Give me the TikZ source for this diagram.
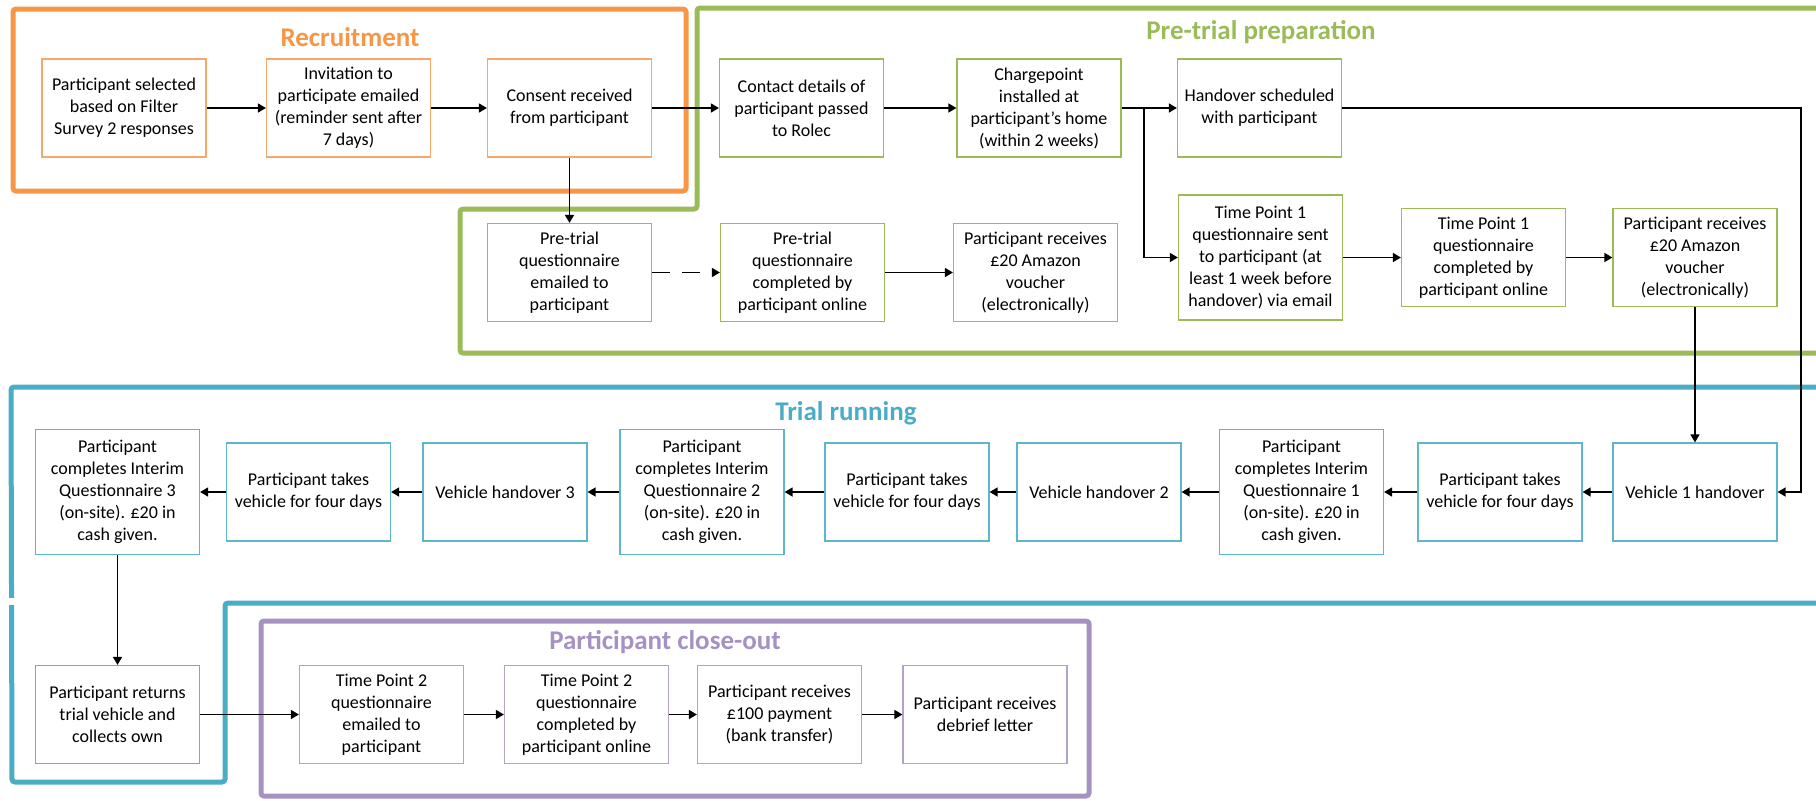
\documentclass[tikz,border=0pt]{standalone}
\usepackage{fontspec}
\setmainfont{Carlito}
\usetikzlibrary{arrows.meta}
\definecolor{recOrange}{HTML}{F79646}
\definecolor{recBox}{HTML}{F9A66C}
\definecolor{preGreen}{HTML}{9BBB59}
\definecolor{trialTeal}{HTML}{4BACC6}
\definecolor{trialBox}{HTML}{5DB6CE}
\definecolor{closePurple}{HTML}{A692C2}
\definecolor{closeBox}{HTML}{B3A2C7}

\begin{document}
\begin{tikzpicture}[x=0.5pt,y=-0.5pt,
  box/.style={draw, line width=0.6pt, fill=white, align=center, inner sep=0pt,
    minimum width=82pt, minimum height=49pt, font=\fontsize{9}{11}\selectfont, text=black},
  tall/.style={minimum height=62.5pt},
  recbox/.style={box, draw=recBox},
  prebox/.style={box, draw=preGreen},
  runbox/.style={box, draw=trialBox},
  closebox/.style={box, draw=closeBox},
  frame/.style={line width=2.5pt, rounded corners=1.5pt},
  title/.style={font=\fontsize{13.5}{16}\selectfont\bfseries},
  arr/.style={-{Triangle[length=4pt,width=4.5pt]}, line width=0.75pt, black}]

\useasboundingbox (0,0) rectangle (1816,800);
\clip (0,0) rectangle (1816,800);

% stage frames
\draw[frame, recOrange] (13,9) rectangle (686,191);
\draw[frame, preGreen] (697,8) -- (1840,8) -- (1840,353) -- (460,353) -- (460,209) -- (697,209) -- cycle;
\draw[frame, trialTeal] (11,387) -- (1840,387) -- (1840,603) -- (225,603) -- (225,782) -- (12,782) -- cycle;
\fill[white] (4,598) rectangle (18,605);
\draw[frame, closePurple] (261,621) rectangle (1089,796);

% stage titles
\node[title, text=recOrange] (trec) at (350,37) {Recruitment};
\node[title, text=preGreen] (tpre) at (1261,32) {Pre-trial preparation};
\node[title, text=trialTeal] (trun) at (846,413) {Trial running};
\node[title, text=closePurple] (tclose) at (665,642) {Participant close-out};

% recruitment
\node[recbox] (sel) at (124,108) {Participant selected\\based on Filter\\Survey 2 responses};
\node[recbox] (inv) at (348.5,108) {Invitation to\\participate emailed\\(reminder sent after\\7 days)};
\node[recbox] (con) at (569.5,108) {Consent received\\from participant};

% pre-trial preparation
\node[prebox] (cont) at (801.5,108) {Contact details of\\participant passed\\to Rolec};
\node[prebox] (chg) at (1039,108) {Chargepoint\\installed at\\participant’s home\\(within 2 weeks)};
\node[prebox] (hos) at (1259.5,108) {Handover scheduled\\with participant};
\node[prebox] (ptq) at (569.5,272.5) {Pre-trial\\questionnaire\\emailed to\\participant};
\node[prebox] (ptc) at (802.5,272.5) {Pre-trial\\questionnaire\\completed by\\participant online};
\node[prebox] (vo1) at (1035.5,272.5) {Participant receives\\£20 Amazon\\voucher\\(electronically)};
\node[prebox, tall] (tps) at (1260.5,257.5) {Time Point 1\\questionnaire sent\\to participant (at\\least 1 week before\\handover) via email};
\node[prebox] (tpc) at (1483.5,257.5) {Time Point 1\\questionnaire\\completed by\\participant online};
\node[prebox] (vo2) at (1695,257.5) {Participant receives\\£20 Amazon\\voucher\\(electronically)};

% trial running
\node[runbox] (vh1) at (1695,492) {Vehicle 1 handover};
\node[runbox] (tk1) at (1500,492) {Participant takes\\vehicle for four days};
\node[runbox, tall] (iq1) at (1301.5,492) {Participant\\completes Interim\\Questionnaire 1\\(on-site). £20 in\\cash given.};
\node[runbox] (vh2) at (1099,492) {Vehicle handover 2};
\node[runbox] (tk2) at (907,492) {Participant takes\\vehicle for four days};
\node[runbox, tall] (iq2) at (702,492) {Participant\\completes Interim\\Questionnaire 2\\(on-site). £20 in\\cash given.};
\node[runbox] (vh3) at (505,492) {Vehicle handover 3};
\node[runbox] (tk3) at (308.5,492) {Participant takes\\vehicle for four days};
\node[runbox, tall] (iq3) at (117.5,492) {Participant\\completes Interim\\Questionnaire 3\\(on-site). £20 in\\cash given.};
\node[runbox] (ret) at (117.5,714.5) {Participant returns\\trial vehicle and\\collects own};

% participant close-out
\node[closebox] (tq2) at (381.5,714.5) {Time Point 2\\questionnaire\\emailed to\\participant};
\node[closebox] (tc2) at (586.5,714.5) {Time Point 2\\questionnaire\\completed by\\participant online};
\node[closebox] (pay) at (779.5,714.5) {Participant receives\\£100 payment\\(bank transfer)};
\node[closebox] (deb) at (985,714.5) {Participant receives\\debrief letter};

% connector bends
\coordinate (split) at (1144,108);
\coordinate (rside) at (1801,108);

% connectors
\draw[arr] (sel) -- (inv);
\draw[arr] (inv) -- (con);
\draw[arr] (con) -- (cont);
\draw[arr] (cont) -- (chg);
\draw[arr] (chg) -- (hos);
\draw[arr] (chg.east) -- (split) |- (tps.west);
\draw[arr] (hos.east) -- (rside) |- (vh1.east);
\draw[arr] (con) -- (ptq);
\draw[arr, dashed, dash pattern=on 9pt off 6pt] (ptq) -- (ptc);
\draw[arr] (ptc) -- (vo1);
\draw[arr] (tps) -- (tpc);
\draw[arr] (tpc) -- (vo2);
\draw[arr] (vo2) -- (vh1);
\draw[arr] (vh1) -- (tk1);
\draw[arr] (tk1) -- (iq1);
\draw[arr] (iq1) -- (vh2);
\draw[arr] (vh2) -- (tk2);
\draw[arr] (tk2) -- (iq2);
\draw[arr] (iq2) -- (vh3);
\draw[arr] (vh3) -- (tk3);
\draw[arr] (tk3) -- (iq3);
\draw[arr] (iq3) -- (ret);
\draw[arr] (ret) -- (tq2);
\draw[arr] (tq2) -- (tc2);
\draw[arr] (tc2) -- (pay);
\draw[arr] (pay) -- (deb);
\end{tikzpicture}
\end{document}
